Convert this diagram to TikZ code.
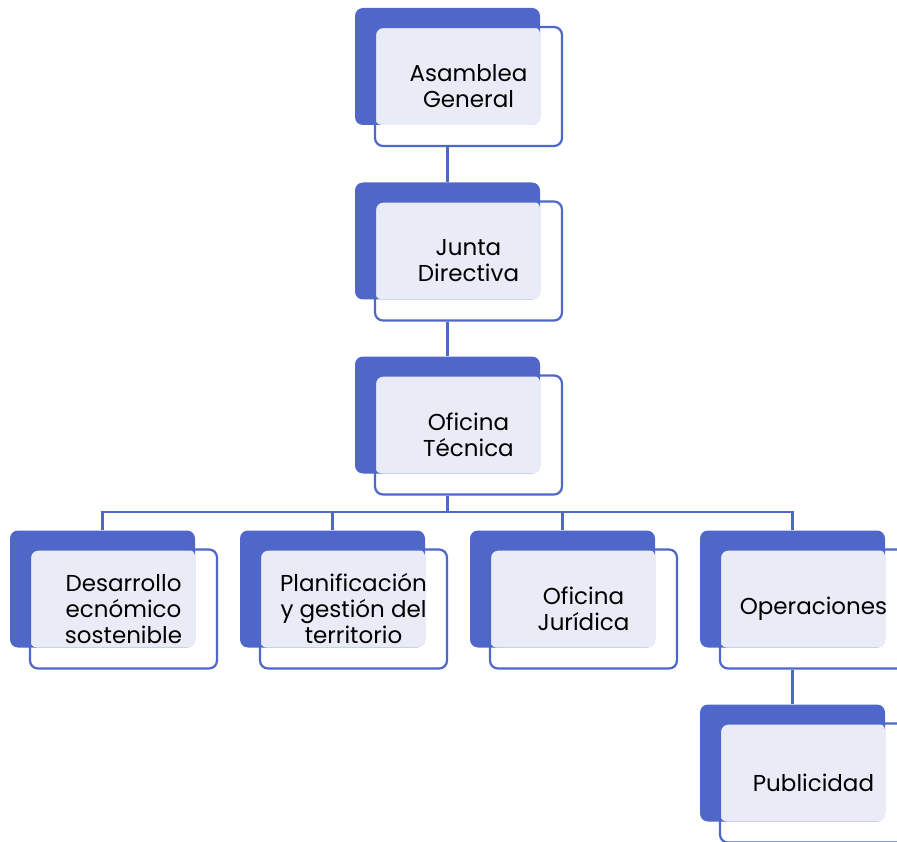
\documentclass[tikz,border=0pt]{standalone}
\usepackage{fontspec}
\setmainfont{Poppins}
\usepackage{tikz}
\usetikzlibrary{positioning}
\definecolor{azul}{RGB}{78,103,200}
\definecolor{claro}{RGB}{233,235,247}
\tikzset{
  fondo/.style={fill=azul,rounded corners=8pt,minimum width=185pt,minimum height=117pt,inner sep=0pt},
  cara/.style={fill=claro,rounded corners=7pt,minimum width=165pt,minimum height=98pt,inner sep=0pt},
  marco/.style={draw=azul,line width=2.2pt,rounded corners=8pt,minimum width=187pt,minimum height=119pt,inner sep=0pt},
  texto/.style={align=center,font=\fontsize{23}{26}\selectfont},
  conector/.style={draw=azul,line width=2.2pt}
}
% one box of the chart: name, x, y, text
\newcommand{\unidad}[4]{%
  \node[fondo] (#1) at (#2,#3) {};
  \node[cara] (#1-c) at ([shift={(10pt,-9.5pt)}]#1) {};
  \node[marco] (#1-f) at ([shift={(21pt,-20pt)}]#1) {};
  \node[texto] (#1-t) at (#1-f) {#4};
}
\begin{document}
\begin{tikzpicture}[x=1pt,y=-1pt]
\useasboundingbox (0,0) rectangle (897,842);
\clip (0,0) rectangle (897,842);
\unidad{asamblea}{447.5}{66.5}{Asamblea\\General}
\unidad{junta}{447.5}{241}{Junta\\Directiva}
\unidad{tecnica}{447.5}{415}{Oficina\\Técnica}
\unidad{desarrollo}{102.5}{589}{Desarrollo\\ecnómico\\sostenible}
\unidad{planificacion}{332.5}{589}{Planificación\\y gestión del\\territorio}
\unidad{juridica}{562.5}{589}{Oficina\\Jurídica}
\unidad{operaciones}{792.5}{589}{Operaciones}
\unidad{publicidad}{792.5}{763}{Publicidad}
\coordinate (bus) at (0,512);
\draw[conector] (asamblea.south|-asamblea-f.south) -- (junta.north);
\draw[conector] (junta.south|-junta-f.south) -- (tecnica.north);
\foreach \n in {desarrollo,planificacion,juridica,operaciones}
  \draw[conector] (tecnica.south|-tecnica-f.south) |- (\n.north|-bus) -- (\n.north);
\draw[conector] (operaciones.south|-operaciones-f.south) -- (publicidad.north);
\end{tikzpicture}
\end{document}
